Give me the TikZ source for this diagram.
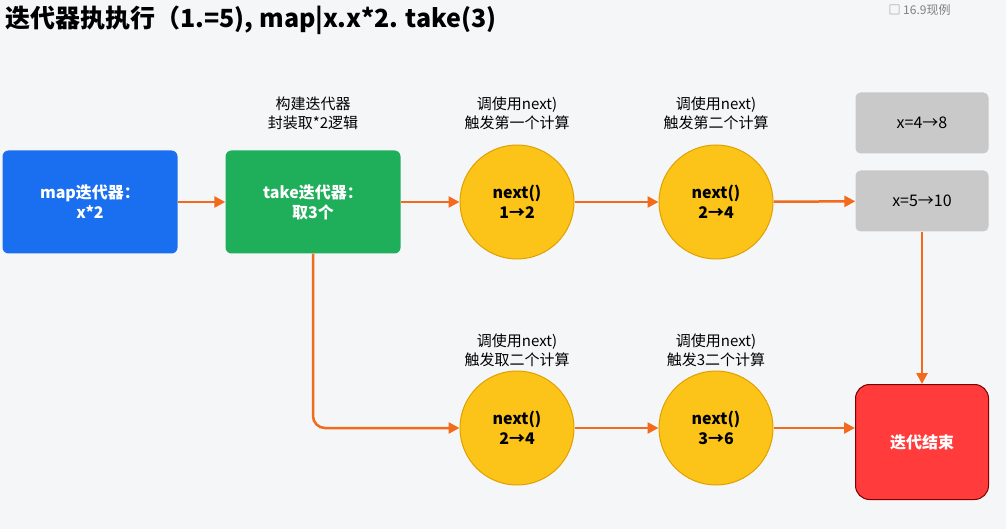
\documentclass[tikz,border=0pt]{standalone}
\usepackage{fontspec}
\setmainfont{Noto Sans CJK SC}
\usepackage{tikz}
\usetikzlibrary{positioning,arrows.meta}
\definecolor{bgc}{HTML}{F4F6F8}
\definecolor{mapblue}{HTML}{1A6FF0}
\definecolor{takegreen}{HTML}{1FAE5A}
\definecolor{nextyel}{HTML}{FCC419}
\definecolor{nextedge}{HTML}{E0A000}
\definecolor{boxgrey}{HTML}{C9C9C9}
\definecolor{endred}{HTML}{FF3B3B}
\definecolor{flow}{HTML}{F26B1D}
\tikzset{
  box/.style={rounded corners=6pt, minimum width=175pt, minimum height=103pt,
    text=white, font=\bfseries\fontsize{16}{20}\selectfont, align=center},
  nextcall/.style={circle, fill=nextyel, draw=nextedge, line width=1pt,
    minimum size=114pt, font=\bfseries\fontsize{16}{20}\selectfont, align=center},
  res/.style={rounded corners=5pt, fill=boxgrey, minimum width=133pt,
    minimum height=61pt, font=\fontsize{16}{20}\selectfont},
  note/.style={font=\fontsize{15}{19}\selectfont, align=center},
  flowline/.style={draw=flow, line width=2.5pt, -{Triangle[length=11pt,width=11pt]}}
}
\begin{document}
\begin{tikzpicture}[x=1pt,y=-1pt]
\fill[bgc] (0,0) rectangle (1006,529);
\useasboundingbox (0,0) rectangle (1006,529);
% title
\node[anchor=west, font=\bfseries\fontsize{25}{30}\selectfont] (title) at (2,20)
  {迭代器执执行（1.=5), map|x.x*2. take(3)};
\node[anchor=west, text=gray, font=\fontsize{12}{14}\selectfont] (ratio) at (885,10)
  {□ 16.9现例};
% iterators
\node[box, fill=mapblue] (map) at (90,202) {map迭代器：\\x*2};
\node[box, fill=takegreen] (take) at (313,202) {take迭代器：\\取3个};
\node[note] (nt) at (313,113) {构建迭代器\\封装取*2逻辑};
% next() calls
\node[nextcall] (n1) at (517,202) {next()\\1→2};
\node[nextcall] (n2) at (716,202) {next()\\2→4};
\node[nextcall] (n3) at (517,428) {next()\\2→4};
\node[nextcall] (n4) at (716,428) {next()\\3→6};
\node[note] (l1) at (517,113) {调使用next)\\触发第一个计算};
\node[note] (l2) at (716,113) {调使用next)\\触发第二个计算};
\node[note] (l3) at (517,350) {调使用next)\\触发取二个计算};
\node[note] (l4) at (716,350) {调使用next)\\触发3二个计算};
% results
\node[res] (r1) at (922,123) {x=4→8};
\node[res] (r2) at (922,201) {x=5→10};
\node[rounded corners=14pt, fill=endred, draw=red!50!black, line width=1pt,
  minimum width=133pt, minimum height=115pt, text=white,
  font=\bfseries\fontsize{16}{20}\selectfont] (stop) at (922,442) {迭代结束};
% connectors
\draw[flowline] (map) -- (take);
\draw[flowline] (take) -- (n1);
\draw[flowline] (n1) -- (n2);
\draw[flowline] (n2) -- (r2);
\draw[flowline] (r2) -- (stop);
\draw[flowline, rounded corners=12pt] (take.south) |- (n3);
\draw[flowline] (n3) -- (n4);
\draw[flowline] (n4) -- (n4 -| stop.west);
\end{tikzpicture}
\end{document}
